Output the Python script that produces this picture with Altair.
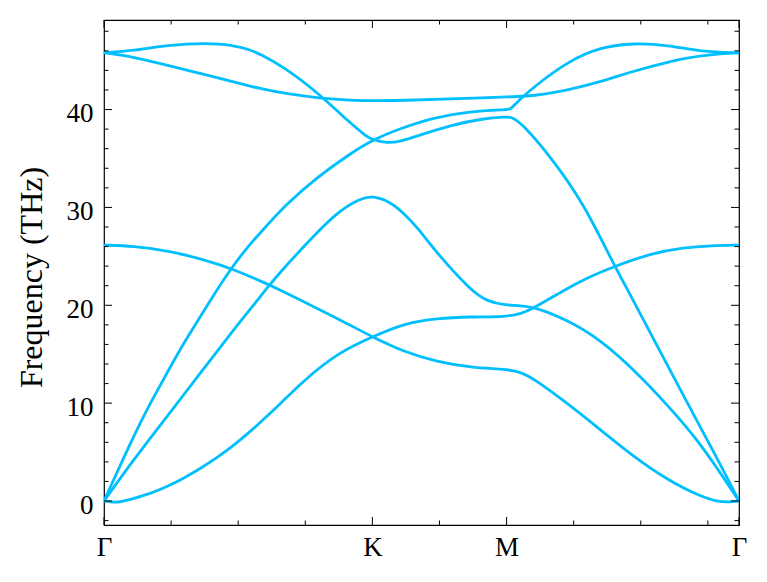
import altair as alt
import pandas as pd

# ---------------- data ----------------
kpath_pos = [0.0, 1.0, 1.5, 2.366]
kpath_labels = ["Γ", "K", "M", "Γ"]

x_minor = [0.25, 0.5, 0.75, 1.25, 1.75, 2.0, 2.25]
y_major = [0, 10, 20, 30, 40]
y_minor = [-2, 2, 4, 6, 8, 12, 14, 16, 18, 22, 24, 26, 28, 32, 34, 36, 38, 42, 44, 46, 48]

k1 = [0, 0.03, 0.06, 0.109, 0.172, 0.234, 0.296, 0.358, 0.42, 0.482, 0.545, 0.607, 0.657, 0.744,
      0.868, 1.0, 1.117, 1.241, 1.366, 1.5, 1.552, 1.608, 1.714, 1.8, 1.9, 2.037, 2.162, 2.26, 2.366]
f1 = [0, -0.12, -0.12, 0.25, 0.75, 1.45, 2.3, 3.3, 4.4, 5.65, 7.1, 8.65, 9.95, 12.3,
      15.09, 16.78, 18.15, 18.66, 18.83, 18.83, 19.1, 19.8, 21.55, 22.8, 23.95, 25.3, 25.9, 26.1, 26.15]

k2 = [0, 0.109, 0.234, 0.358, 0.482, 0.607, 0.657, 0.744, 0.868, 0.918, 1.0, 1.117, 1.241, 1.366,
      1.5, 1.552, 1.601, 1.727, 1.851, 1.975, 2.1, 2.224, 2.29, 2.335, 2.366]
f2 = [26.15, 26.05, 25.57, 24.8, 23.7, 22.2, 21.55, 20.36, 18.66, 17.95, 16.78, 15.25, 14.23, 13.65,
      13.45, 13.2, 12.5, 9.98, 7.25, 4.5, 2.15, 0.44, -0.1, -0.1, 0]

k3 = [0, 0.109, 0.234, 0.358, 0.482, 0.545, 0.607, 0.657, 0.744, 0.868, 0.955, 1.0, 1.067, 1.117,
      1.167, 1.241, 1.366, 1.428, 1.5, 1.54, 1.601, 1.727, 1.851, 1.975, 2.1, 2.224, 2.366]
f3 = [0, 4.19, 8.6, 13.04, 17.47, 19.6, 21.75, 23.4, 26.0, 29.55, 30.9, 31.2, 30.57, 29.4,
      28.0, 25.3, 21.55, 20.36, 20.0, 20.0, 19.85, 18.5, 16.45, 13.4, 9.8, 5.9, 0]

k4 = [0, 0.109, 0.172, 0.234, 0.296, 0.358, 0.42, 0.482, 0.545, 0.619, 0.669, 0.794, 0.918, 1.0,
      1.104, 1.229, 1.353, 1.5, 1.515, 1.54, 1.601, 1.727, 1.851, 1.975, 2.1, 2.224, 2.366]
f4 = [0, 6.57, 9.98, 13.04, 16.1, 18.8, 21.55, 24.1, 26.3, 28.5, 30.06, 33.1, 35.5, 36.9,
      38.07, 39.2, 39.77, 40.0, 40.0, 40.8, 42.3, 44.9, 46.4, 46.8, 46.6, 45.9, 45.8]

k5 = [0, 0.109, 0.234, 0.383, 0.482, 0.545, 0.582, 0.669, 0.794, 0.918, 0.98, 1.0, 1.055, 1.104,
      1.167, 1.291, 1.415, 1.5, 1.515, 1.552, 1.664, 1.788, 1.9, 1.957, 2.037, 2.162, 2.286, 2.366]
f5 = [45.8, 46.0, 46.58, 46.82, 46.58, 46.1, 45.66, 44.36, 41.8, 38.6, 37.2, 36.95, 36.54, 36.75,
      37.3, 38.4, 39.1, 39.25, 39.25, 38.75, 35.2, 30.4, 24.1, 21.3, 17.1, 10.6, 4.3, 0]

k6 = [0, 0.109, 0.234, 0.358, 0.482, 0.545, 0.582, 0.669, 0.818, 0.918, 1.0, 1.167, 1.291, 1.415,
      1.5, 1.601, 1.727, 1.851, 1.975, 2.1, 2.224, 2.366]
f6 = [45.8, 45.38, 44.54, 43.69, 42.83, 42.4, 42.15, 41.65, 41.1, 40.96, 40.9, 40.96, 41.1, 41.2,
      41.3, 41.37, 41.98, 42.83, 43.95, 44.87, 45.56, 45.8]

bands = [(k1, f1), (k2, f2), (k3, f3), (k4, f4), (k5, f5), (k6, f6)]

# ---------------- build ----------------
rows = []
for i, (ks, fs) in enumerate(bands):
    for k, f in zip(ks, fs):
        rows.append({"band": i, "k": k, "f": f})
df = pd.DataFrame(rows)

W, H = 635, 505
FONT = "Liberation Serif"
COLOR = "#00BFFF"
MAJ, MIN = 8, 4.5

xscale = alt.Scale(domain=[0, 2.366], nice=False, zero=False)
yscale = alt.Scale(domain=[-2.45, 49.15], nice=False, zero=False)

label_expr = "".join(
    f"abs(datum.value - {p}) < 0.01 ? '{l}' : " for p, l in zip(kpath_pos, kpath_labels)
) + "''"

xaxis = alt.Axis(values=kpath_pos, labelExpr=label_expr, title=None, grid=False, domain=False,
                 ticks=False, tickSize=0, labelFont=FONT, labelFontSize=27, labelColor="black",
                 labelPadding=30, labelBaseline="alphabetic", labelFlush=False, labelOverlap=False,
                 labelAlign="center")
yaxis = alt.Axis(values=y_major, title="Frequency (THz)", grid=False, domain=False, ticks=False,
                 tickSize=0, labelFont=FONT, labelFontSize=27, labelColor="black", labelPadding=11,
                 labelBaseline="alphabetic", labelOffset=12, labelFlush=False, labelOverlap=False,
                 titleFont=FONT, titleFontSize=32, titleFontWeight="normal", titleColor="black",
                 titleAngle=270, titleAlign="center", titleBaseline="alphabetic",
                 titleX=-63, titleY=257)

lines = alt.Chart(df).mark_line(color=COLOR, strokeWidth=2.8, interpolate="basis", clip=True).encode(
    x=alt.X("k:Q", scale=xscale, axis=xaxis),
    y=alt.Y("f:Q", scale=yscale, axis=yaxis),
    detail="band:N",
)

xmaj_df = pd.DataFrame({"k": kpath_pos})
xmin_df = pd.DataFrame({"k": x_minor})
ymaj_df = pd.DataFrame({"f": y_major})
ymin_df = pd.DataFrame({"f": y_minor})


def xticks(d, length, top):
    y0, y1 = (0, length) if top else (H, H - length)
    return alt.Chart(d).mark_rule(color="black", strokeWidth=1).encode(
        x=alt.X("k:Q", scale=xscale, axis=xaxis), y=alt.value(y0), y2=alt.value(y1))


def yticks(d, length, right):
    x0, x1 = (W, W - length) if right else (0, length)
    return alt.Chart(d).mark_rule(color="black", strokeWidth=1).encode(
        y=alt.Y("f:Q", scale=yscale, axis=yaxis), x=alt.value(x0), x2=alt.value(x1))


chart = alt.layer(
    lines,
    xticks(xmaj_df, MAJ, False), xticks(xmaj_df, MAJ, True),
    xticks(xmin_df, MIN, False), xticks(xmin_df, MIN, True),
    yticks(ymaj_df, MAJ, False), yticks(ymaj_df, MAJ, True),
    yticks(ymin_df, MIN, False), yticks(ymin_df, MIN, True),
).properties(
    width=W, height=H,
    padding={"left": 96, "top": 12, "right": 12, "bottom": 45},
    autosize=alt.AutoSizeParams(type="none"),
).configure_view(stroke="black", strokeWidth=1.2)

chart.save("out.html", embed_options={"renderer": "svg", "actions": False})
